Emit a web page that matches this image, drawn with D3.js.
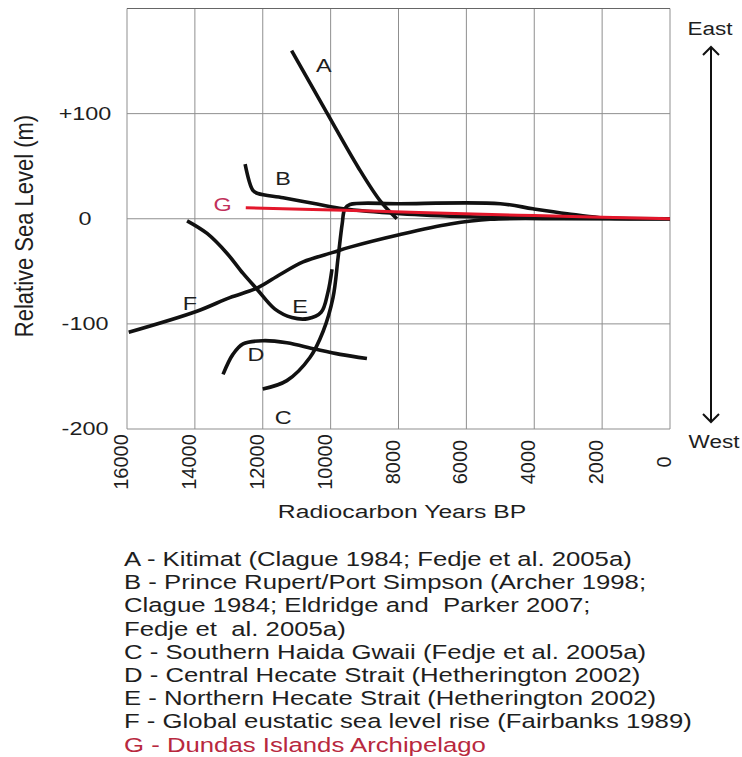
<!DOCTYPE html>
<html>
<head>
<meta charset="utf-8">
<script src="https://cdn.jsdelivr.net/npm/d3@7"></script>
<style>
  body { margin: 0; background: #fff; }
  svg { display: block; font-family: "Liberation Sans", Arial, sans-serif; }
  text { white-space: pre; }
</style>
</head>
<body>
<div class="chart"></div>
<script>
// x: radiocarbon years BP, y: relative sea level (m)
const xTicks = [16000, 14000, 12000, 10000, 8000, 6000, 4000, 2000, 0];
const yTicks = [100, 0, -100, -200];
const yTickLabels = ["+100", "0", "-100", "-200"];

const curveA = [[11150, 160], [10080, 99], [9190, 49], [8540, 17], [8050, 0]];
const curveB = [[12520, 52], [12290, 27], [12140, 24], [11400, 20], [10400, 14], [9630, 9.5],
                [7950, 4.8], [5890, 1.9], [3240, 0.5], [0, 0]];
const curveC = [[12000, -162], [11290, -154], [10610, -132], [10220, -107], [9930, -75],
                [9780, -37], [9660, -5], [9580, 9.5], [9430, 13.5], [7950, 14.3], [5000, 14.3],
                [4040, 9.5], [3030, 4.8], [2060, 1], [0, 0]];
const curveD = [[13170, -148], [12880, -129], [12580, -119], [11990, -116], [11290, -118],
                [10460, -124], [9720, -129], [8930, -133]];
const curveE = [[14230, -2], [13640, -14], [13050, -33], [12580, -52], [12170, -67], [11640, -86],
                [11140, -94], [10670, -95], [10280, -89], [10080, -70], [9960, -48]];
const curveF = [[15950, -108], [13940, -88], [12970, -75], [12170, -66], [11490, -53], [10810, -41],
                [9930, -32], [9430, -27], [7950, -15], [6480, -5], [5300, -0.5], [3000, 0], [0, 0]];
const curveG = [[12500, 10.5], [9600, 8], [7400, 6], [4000, 3], [0, 0]];

const seriesNames = ["A", "B", "C", "D", "E", "F", "G"];
const seriesData = [curveA, curveB, curveC, curveD, curveE, curveF, curveG];
// where each letter sits on the chart [years, metres]
const letterPos = [[10200, 140], [11400, 32], [11400, -195], [12200, -135], [10900, -90],
                   [14150, -87], [13180, 7.5]];

const legendLines = [
  "A - Kitimat (Clague 1984; Fedje et al. 2005a)",
  "B - Prince Rupert/Port Simpson (Archer 1998;",
  "Clague 1984; Eldridge and  Parker 2007;",
  "Fedje et  al. 2005a)",
  "C - Southern Haida Gwaii (Fedje et al. 2005a)",
  "D - Central Hecate Strait (Hetherington 2002)",
  "E - Northern Hecate Strait (Hetherington 2002)",
  "F - Global eustatic sea level rise (Fairbanks 1989)",
  "G - Dundas Islands Archipelago"
];

const width = 742, height = 757;
const stretch = 1.3;   // the figure text is drawn a bit wide
const red = "#e3172b", redText = "#c1305a", ink = "#1e1e1e";

const svg = d3.select(".chart").append("svg")
  .attr("width", width)
  .attr("height", height);

const xScale = d3.scaleLinear().domain([16000, 0]).range([127, 670]);
const yScale = d3.scaleLinear().domain([-200, 200]).range([429, 8.5]);

// grid
svg.append("g").selectAll("line")
  .data(xTicks)
  .enter().append("line")
  .attr("x1", d => xScale(d)).attr("x2", d => xScale(d))
  .attr("y1", yScale(200)).attr("y2", yScale(-200))
  .attr("stroke", "#8f8f8f").attr("stroke-width", 1);

svg.append("g").selectAll("line")
  .data(yTicks)
  .enter().append("line")
  .attr("x1", xScale(16000)).attr("x2", xScale(0))
  .attr("y1", d => yScale(d)).attr("y2", d => yScale(d))
  .attr("stroke", "#8f8f8f").attr("stroke-width", 1);

svg.append("line")
  .attr("x1", xScale(16000)).attr("x2", xScale(0))
  .attr("y1", yScale(200)).attr("y2", yScale(200))
  .attr("stroke", "#666").attr("stroke-width", 1);

// wide text helper
function wideText(x, y, txt, size, anchor, color, sx) {
  return svg.append("g")
    .attr("transform", "translate(" + x + "," + y + ")")
    .append("text")
    .attr("transform", "scale(" + (sx || stretch) + ",1)")
    .attr("text-anchor", anchor)
    .attr("font-size", size)
    .attr("fill", color || ink)
    .text(txt);
}

// y tick labels
yTicks.forEach((d, i) => wideText(85, yScale(d) + 6, yTickLabels[i], 18, "middle"));

// x tick labels, rotated
svg.append("g").selectAll("text")
  .data(xTicks)
  .enter().append("text")
  .attr("transform", d => "translate(" + (xScale(d) + 1) + ",462) rotate(-90)")
  .attr("text-anchor", "middle")
  .attr("font-size", 20)
  .attr("fill", ink)
  .text(d => d);

// axis titles
wideText(402, 518, "Radiocarbon Years BP", 19, "middle");
svg.append("text")
  .attr("transform", "translate(33,226) scale(1.15,1) rotate(-90)")
  .attr("text-anchor", "middle")
  .attr("font-size", 22)
  .attr("fill", ink)
  .text("Relative Sea Level (m)");

// curves
const line = d3.line()
  .x(d => xScale(d[0]))
  .y(d => yScale(d[1]))
  .curve(d3.curveCatmullRom.alpha(0.5));

svg.append("g").selectAll("path")
  .data(seriesData)
  .enter().append("path")
  .attr("d", line)
  .attr("fill", "none")
  .attr("stroke", (d, i) => seriesNames[i] === "G" ? red : "#111")
  .attr("stroke-width", (d, i) => seriesNames[i] === "G" ? 3 : 3.6)
  .attr("stroke-linejoin", "round");

// letters on the chart
seriesNames.forEach((n, i) => {
  wideText(xScale(letterPos[i][0]), yScale(letterPos[i][1]), n, 18, "middle",
           n === "G" ? redText : ink);
});

// East / West arrow
const arrowX = 711;
svg.append("line")
  .attr("x1", arrowX).attr("x2", arrowX)
  .attr("y1", 47).attr("y2", 422)
  .attr("stroke", "#111").attr("stroke-width", 2);
svg.append("path")
  .attr("d", "M" + (arrowX - 8) + ",55L" + arrowX + ",47L" + (arrowX + 8) + ",55")
  .attr("fill", "none").attr("stroke", "#111").attr("stroke-width", 2);
svg.append("path")
  .attr("d", "M" + (arrowX - 8) + ",414L" + arrowX + ",422L" + (arrowX + 8) + ",414")
  .attr("fill", "none").attr("stroke", "#111").attr("stroke-width", 2);
wideText(710, 35, "East", 18, "middle", ink, 1.25);
wideText(714, 448, "West", 18, "middle", ink, 1.25);

// legend
legendLines.forEach((t, i) => {
  wideText(124, 566 + i * 23.2, t, 19.5, "start",
           i === legendLines.length - 1 ? "#b8283e" : ink, 1.32);
});
</script>
</body>
</html>
